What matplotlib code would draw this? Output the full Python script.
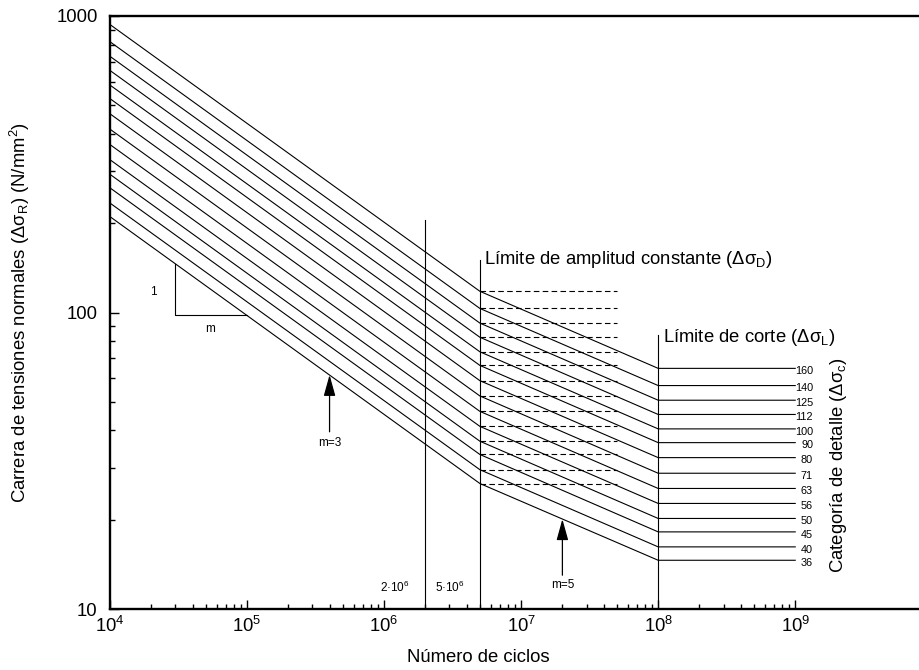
import matplotlib
matplotlib.use("Agg")
import matplotlib.pyplot as plt
import matplotlib.ticker as mt
import numpy as np

plt.rcParams["font.family"] = ["Liberation Sans", "DejaVu Sans"]
plt.rcParams["mathtext.fontset"] = "custom"
plt.rcParams["mathtext.rm"] = "Liberation Sans"
plt.rcParams["mathtext.it"] = "Liberation Sans:italic"
plt.rcParams["mathtext.bf"] = "Liberation Sans:bold"
plt.rcParams["mathtext.default"] = "regular"

# detail categories (delta sigma_C, N/mm2)
categories = [160, 140, 125, 112, 100, 90, 80, 71, 63, 56, 50, 45, 40, 36]
# stress range at N = 1e4
s_start = [935.7, 818.7, 731.0, 655.0, 584.8, 526.3, 467.8, 415.2, 368.4, 327.5, 292.4, 263.2, 233.9, 210.5]
# constant amplitude limit (N = 5e6)
s_D = [117.9, 103.2, 92.1, 82.5, 73.7, 66.3, 58.9, 52.3, 46.4, 41.3, 36.8, 33.2, 29.5, 26.5]
# cut-off limit (N = 1e8)
s_L = [64.8, 56.7, 50.6, 45.3, 40.5, 36.4, 32.4, 28.7, 25.5, 22.7, 20.2, 18.2, 16.2, 14.6]
# cycle counts of the knees
n_pts = [1e4, 5e6, 1e8, 1e9]

fig = plt.figure(figsize=(9.19, 6.70), dpi=100)
ax = fig.add_axes([110 / 919, 61 / 670, 809 / 919, 593 / 670])
ax.set_xscale("log")
ax.set_yscale("log")
ax.set_xlim(1e4, 8e9)
ax.set_ylim(10, 1000)

lw = 0.8
for c, s0, sd, sl in zip(categories, s_start, s_D, s_L):
    ax.plot(n_pts, [s0, sd, sl, sl], color="k", lw=lw)
    ax.plot([5e6, 5e7], [sd, sd], color="k", lw=lw, ls=(0, (5, 3)))
    ax.annotate(str(c), (1.35e9, sl), xytext=(0, -2), textcoords="offset points",
                ha="right", va="center", fontsize=7.8)

# vertical reference lines
ax.plot([2e6, 2e6], [10, 205], color="k", lw=lw)
ax.plot([5e6, 5e6], [10, 150], color="k", lw=lw)
ax.plot([1e8, 1e8], [10, 84], color="k", lw=lw)

ax.text(5.4e6, 146, "Límite de amplitud constante (Δσ$_\\mathrm{D}$)",
        fontsize=13.3, ha="left", va="baseline")
ax.text(1.08e8, 79.7, "Límite de corte (Δσ$_\\mathrm{L}$)",
        fontsize=13.3, ha="left", va="baseline")

# slope triangle
ax.plot([3e4, 3e4, 1e5], [146, 97.7, 97.7], color="k", lw=lw)
ax.text(2.06e4, 117, "1", fontsize=8.5, ha="center", va="center")
ax.text(5.37e4, 88, "m", fontsize=8.5, ha="center", va="center")

# slope arrows
arr = dict(arrowstyle="-|>,head_length=1.3,head_width=0.36", color="k", lw=0.9,
           shrinkA=0, shrinkB=0, mutation_scale=10)
ax.annotate("", xy=(4e5, 61.6), xytext=(4e5, 39.6), arrowprops=arr)
ax.text(4e5, 36.3, "m=3", fontsize=8.5, ha="center", va="center")
ax.annotate("", xy=(2e7, 20.1), xytext=(2e7, 13.0), arrowprops=arr)
ax.text(2e7, 12.05, "m=5", fontsize=8.5, ha="center", va="center")

ax.text(1.2e6, 11.8, "2·10$^6$", fontsize=8.5, ha="center", va="center")
ax.text(3e6, 11.8, "5·10$^6$", fontsize=8.5, ha="center", va="center")

ax.text(0.9, 0.243, "Categoría de detalle (Δσ$_\\mathrm{c}$)", transform=ax.transAxes,
        rotation=90, fontsize=13.3, ha="center", va="center")

# axes styling
ax.spines["right"].set_visible(False)
for s in ["left", "bottom", "top"]:
    ax.spines[s].set_linewidth(1.7)

ax.xaxis.set_major_locator(mt.FixedLocator([1e4, 1e5, 1e6, 1e7, 1e8, 1e9]))
ax.xaxis.set_major_formatter(mt.LogFormatterSciNotation())
minor_x = [k * 10.0 ** e for e in range(4, 9) for k in range(2, 10)]
ax.xaxis.set_minor_locator(mt.FixedLocator(minor_x))
ax.xaxis.set_minor_formatter(mt.NullFormatter())

ax.yaxis.set_major_locator(mt.FixedLocator([10, 100, 1000]))
ax.yaxis.set_major_formatter(mt.FuncFormatter(lambda v, p: "%d" % v))
minor_y = [k * 10.0 ** e for e in range(1, 3) for k in range(2, 10)]
ax.yaxis.set_minor_locator(mt.FixedLocator(minor_y))
ax.yaxis.set_minor_formatter(mt.NullFormatter())

ax.tick_params(which="major", direction="in", length=6.5, width=1.0, labelsize=13.3)
ax.tick_params(which="minor", direction="in", length=3.6, width=1.0)
ax.tick_params(axis="x", which="major", pad=5)
ax.tick_params(axis="y", which="major", pad=9)
ax.tick_params(top=False, right=False, which="both")

ax.set_xlabel("Número de ciclos", fontsize=13.3)
ax.xaxis.set_label_coords(0.455, -0.0675)
ax.set_ylabel("Carrera de tensiones normales (Δσ$_\\mathrm{R}$) (N/mm$^2$)", fontsize=13.3)
ax.yaxis.set_label_coords(-0.096, 0.5)

fig.savefig("out.png", dpi=100)
